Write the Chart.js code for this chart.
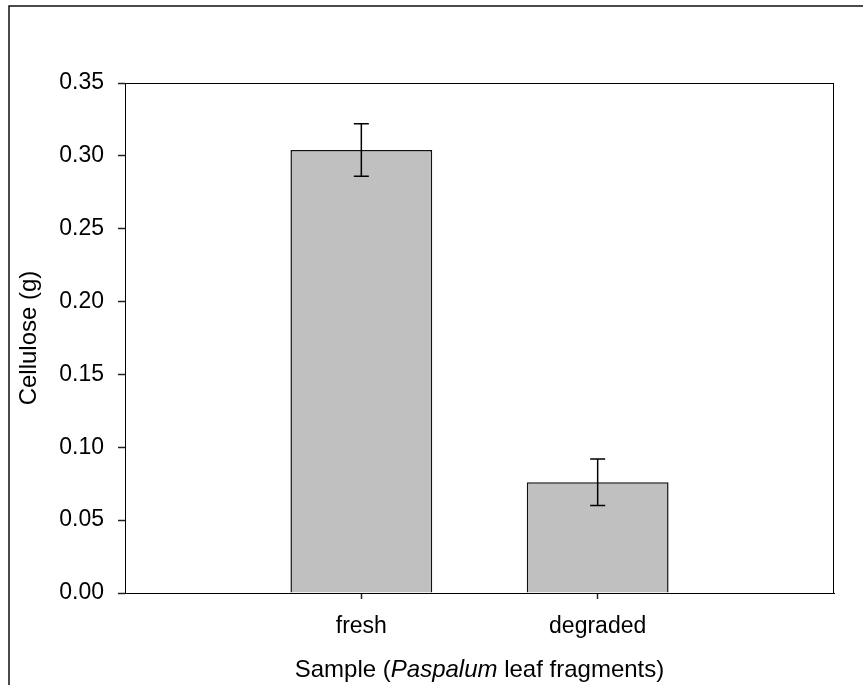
<!DOCTYPE html>
<html>
<head>
<meta charset="utf-8">
<script src="https://cdn.jsdelivr.net/npm/chart.js@4/dist/chart.umd.min.js"></script>
<style>
    html, body { margin: 0; padding: 0; background: #ffffff; }
    #wrap { width: 863px; height: 685px; }
</style>
</head>
<body>
<div id="wrap"><canvas id="chart" width="863" height="685"></canvas></div>
<script>
// categories (empty slots at the ends keep the bars at 1/3 and 2/3 of the axis)
var samples = ["", "fresh", "degraded", ""];
var cellulose = [null, 0.304, 0.076, null];
var cellulose_err = [null, 0.018, 0.016, null];
var yTicks = [0.00, 0.05, 0.10, 0.15, 0.20, 0.25, 0.30, 0.35];

var FONT = "'Liberation Sans', Arial, sans-serif";
var FSIZE = 23;
var TSIZE = 24;

// outer frame of the figure (only left and top edge are visible)
var framePlugin = {
    id: "frame",
    beforeDraw: function(chart)
    {
        var ctx = chart.ctx;
        ctx.save();
        ctx.strokeStyle = "#111111";
        ctx.lineWidth = 1.5;
        ctx.beginPath();
        ctx.moveTo(9, chart.height);
        ctx.lineTo(9, 6);
        ctx.lineTo(chart.width, 6);
        ctx.stroke();
        ctx.restore();
    }
};

// box round the plot area plus error bars
var boxErrPlugin = {
    id: "boxErr",
    afterDatasetsDraw: function(chart)
    {
        var ctx = chart.ctx;
        var a = chart.chartArea;
        var xs = chart.scales.x;
        var ys = chart.scales.y;

        ctx.save();
        ctx.strokeStyle = "#000000";
        ctx.lineWidth = 1;
        ctx.strokeRect(a.left + 0.5, a.top + 0.5, a.right - a.left - 1, a.bottom - a.top);

        ctx.lineWidth = 1.5;
        for (var i = 0; i < cellulose.length; ++i)
        {
            if (cellulose[i] == null)
            {
                continue;
            }
            var x = xs.getPixelForValue(i);
            var yHi = ys.getPixelForValue(cellulose[i] + cellulose_err[i]);
            var yLo = ys.getPixelForValue(cellulose[i] - cellulose_err[i]);
            ctx.beginPath();
            ctx.moveTo(x, yHi);
            ctx.lineTo(x, yLo);
            ctx.moveTo(x - 7.5, yHi);
            ctx.lineTo(x + 7.5, yHi);
            ctx.moveTo(x - 7.5, yLo);
            ctx.lineTo(x + 7.5, yLo);
            ctx.stroke();
        }
        ctx.restore();
    }
};

// x title with the genus name in italics
var xTitlePlugin = {
    id: "xTitle",
    afterDraw: function(chart)
    {
        var ctx = chart.ctx;
        var a = chart.chartArea;
        var parts = [
            { text: "Sample (", italic: false },
            { text: "Paspalum", italic: true },
            { text: " leaf fragments)", italic: false }
        ];
        ctx.save();
        ctx.fillStyle = "#000000";
        ctx.textBaseline = "alphabetic";
        ctx.textAlign = "left";
        var total = 0;
        parts.forEach(function(p)
        {
            ctx.font = (p.italic ? "italic " : "") + TSIZE + "px " + FONT;
            p.w = ctx.measureText(p.text).width;
            total += p.w;
        });
        var x = (a.left + a.right) / 2 - total / 2;
        var y = 677;
        parts.forEach(function(p)
        {
            ctx.font = (p.italic ? "italic " : "") + TSIZE + "px " + FONT;
            ctx.fillText(p.text, x, y);
            x += p.w;
        });
        ctx.restore();
    }
};

var ctx = document.getElementById("chart").getContext("2d");
var chart = new Chart(ctx, {
    type: "bar",
    data: {
        labels: samples,
        datasets: [{
            data: cellulose,
            backgroundColor: "#c0c0c0",
            borderColor: "#111111",
            borderWidth: 1.5,
            barPercentage: 0.6,
            categoryPercentage: 1
        }]
    },
    options: {
        responsive: false,
        animation: false,
        layout: {
            padding: { top: 83, right: 29, left: 0, bottom: 0 }
        },
        plugins: {
            legend: { display: false },
            tooltip: { enabled: false }
        },
        scales: {
            x: {
                offset: false,
                grid: {
                    offset: false,
                    drawOnChartArea: false,
                    tickLength: 6,
                    tickWidth: 1.5,
                    color: function(c)
                    {
                        return (c.index == 0 || c.index == samples.length - 1) ? "rgba(0,0,0,0)" : "#222222";
                    }
                },
                border: { color: "#000000", width: 1 },
                ticks: {
                    color: "#000000",
                    padding: 14,
                    maxRotation: 0,
                    autoSkip: false,
                    font: { family: FONT, size: FSIZE }
                },
                afterFit: function(scale)
                {
                    scale.height = 92;
                }
            },
            y: {
                min: 0,
                max: 0.35,
                afterBuildTicks: function(scale)
                {
                    scale.ticks = yTicks.map(function(v) { return { value: v }; });
                },
                grid: {
                    drawOnChartArea: false,
                    tickLength: 7,
                    tickWidth: 1.5,
                    color: "#222222"
                },
                border: { color: "#333333", width: 1 },
                ticks: {
                    color: "#000000",
                    padding: 14,
                    font: { family: FONT, size: FSIZE },
                    callback: function(v)
                    {
                        return Number(v).toFixed(2);
                    }
                },
                title: {
                    display: true,
                    text: "Cellulose (g)",
                    color: "#000000",
                    font: { family: FONT, size: TSIZE },
                    padding: { top: 15, bottom: 0 }
                },
                afterFit: function(scale)
                {
                    scale.width = 125;
                }
            }
        }
    },
    plugins: [framePlugin, boxErrPlugin, xTitlePlugin]
});
</script>
</body>
</html>
